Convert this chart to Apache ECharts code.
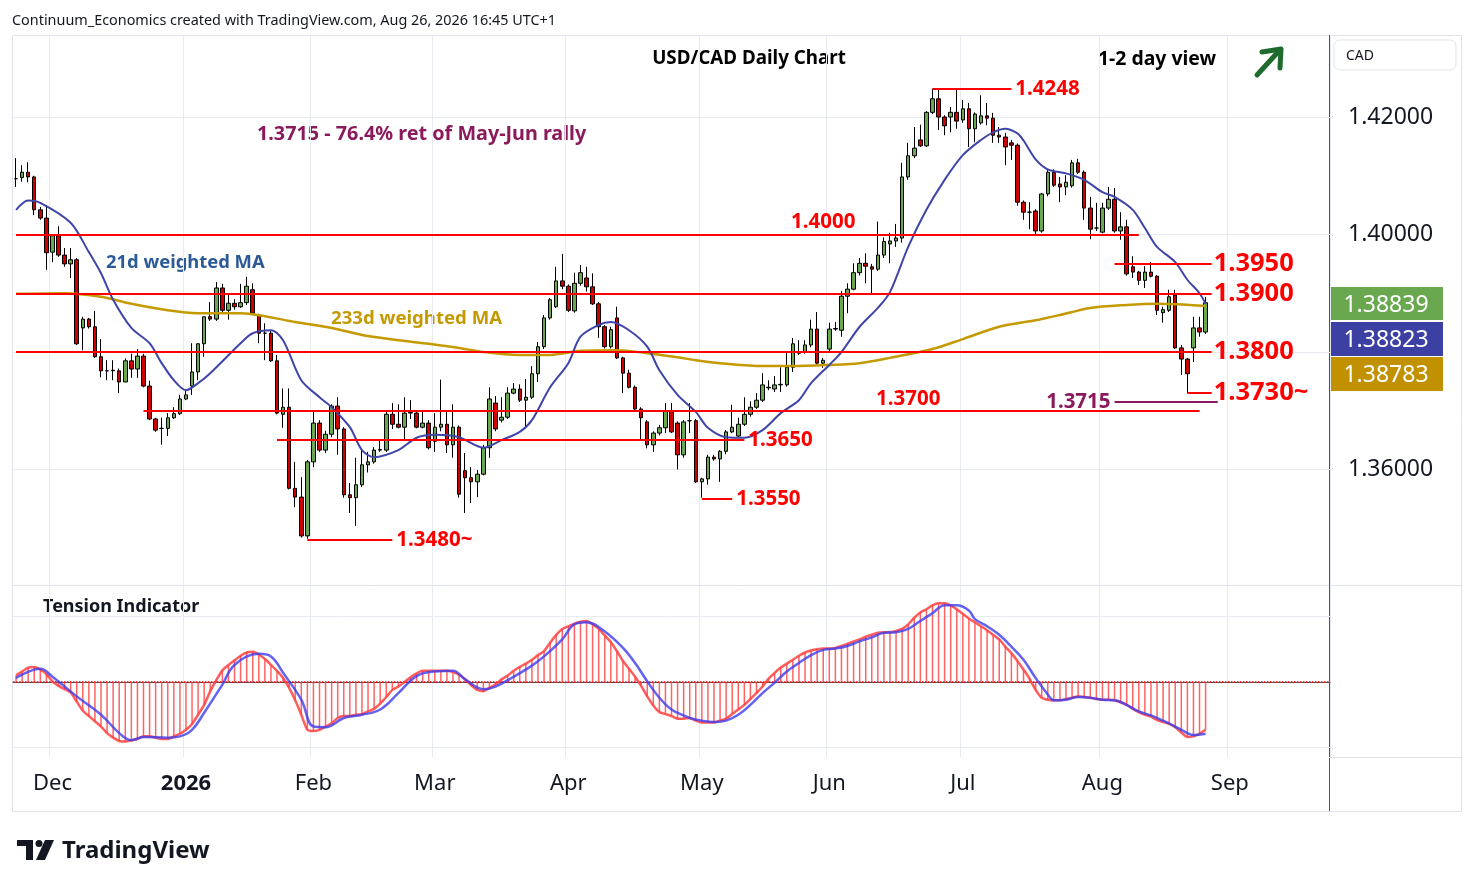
<!DOCTYPE html>
<html>
<head>
<meta charset="utf-8">
<title>USD/CAD Daily Chart</title>
<script src="https://cdn.jsdelivr.net/npm/echarts@6.0.0/dist/echarts.min.js"></script>
<style>
  html, body { margin: 0; padding: 0; background: #fff; }
  #box { width: 1474px; height: 887px; }
</style>
</head>
<body>
<div id="box"></div>
<script>
// ---- values ----

// daily candles, 21 Nov 2025 .. 26 Aug 2026
const openP = [
  1.4095,1.4097,1.4106,1.4098,1.4042,1.4028,1.3970,1.3998,1.3965,1.3950,
  1.3957,1.3841,1.3856,1.3843,1.3792,1.3768,1.3768,1.3768,1.3749,1.3785,
  1.3771,1.3793,1.3742,1.3686,1.3670,1.3670,1.3688,1.3695,1.3720,1.3742,
  1.3766,1.3814,1.3860,1.3856,1.3909,1.3871,1.3883,1.3877,1.3884,1.3906,
  1.3863,1.3832,1.3832,1.3785,1.3694,1.3706,1.3568,1.3553,1.3487,1.3613,
  1.3679,1.3633,1.3660,1.3708,1.3669,1.3557,1.3552,1.3574,1.3608,1.3613,
  1.3633,1.3633,1.3694,1.3677,1.3672,1.3696,1.3696,1.3672,1.3679,1.3648,
  1.3672,1.3677,1.3642,1.3672,1.3598,1.3586,1.3579,1.3592,1.3637,1.3713,
  1.3684,1.3689,1.3730,1.3737,1.3718,1.3723,1.3763,1.3809,1.3858,1.3877,
  1.3921,1.3912,1.3870,1.3917,1.3926,1.3911,1.3882,1.3843,1.3809,1.3858,
  1.3790,1.3764,1.3740,1.3703,1.3681,1.3642,1.3662,1.3671,1.3700,1.3679,
  1.3625,1.3683,1.3683,1.3579,1.3584,1.3621,1.3618,1.3631,1.3664,1.3657,
  1.3677,1.3694,1.3706,1.3718,1.3739,1.3737,1.3744,1.3744,1.3774,1.3798,
  1.3800,1.3812,1.3839,1.3781,1.3805,1.3839,1.3837,1.3895,1.3907,1.3935,
  1.3951,1.3945,1.3941,1.3965,1.3984,1.3989,1.3994,1.4098,1.4134,1.4161,
  1.4151,1.4208,1.4231,1.4200,1.4200,1.4208,1.4195,1.4214,1.4180,1.4190,
  1.4202,1.4198,1.4169,1.4166,1.4156,1.4152,1.4055,1.4038,1.4040,1.4006,
  1.4069,1.4106,1.4086,1.4081,1.4083,1.4122,1.4106,1.4045,1.4011,1.4004,
  1.4045,1.4060,1.4006,1.4013,1.3945,1.3936,1.3922,1.3936,1.3929,1.3867,
  1.3871,1.3897,1.3807,1.3788,1.3807,1.3841,1.3834
];
const highP = [
  1.4130,1.4118,1.4123,1.4100,1.4047,1.4050,1.3998,1.4014,1.3977,1.3977,
  1.3960,1.3860,1.3858,1.3870,1.3822,1.3786,1.3786,1.3772,1.3789,1.3797,
  1.3805,1.3797,1.3751,1.3688,1.3688,1.3696,1.3706,1.3727,1.3735,1.3815,
  1.3815,1.3860,1.3885,1.3919,1.3916,1.3897,1.3890,1.3916,1.3928,1.3917,
  1.3865,1.3849,1.3836,1.3795,1.3738,1.3738,1.3613,1.3587,1.3616,1.3698,
  1.3684,1.3666,1.3711,1.3723,1.3672,1.3577,1.3620,1.3635,1.3630,1.3638,
  1.3650,1.3698,1.3713,1.3711,1.3723,1.3718,1.3701,1.3701,1.3684,1.3696,
  1.3753,1.3698,1.3711,1.3675,1.3628,1.3604,1.3599,1.3642,1.3740,1.3725,
  1.3723,1.3740,1.3747,1.3745,1.3754,1.3776,1.3817,1.3863,1.3892,1.3945,
  1.3967,1.3915,1.3935,1.3948,1.3945,1.3934,1.3885,1.3846,1.3843,1.3877,
  1.3792,1.3770,1.3743,1.3706,1.3684,1.3665,1.3676,1.3713,1.3713,1.3682,
  1.3684,1.3713,1.3686,1.3586,1.3625,1.3625,1.3633,1.3667,1.3710,1.3688,
  1.3723,1.3716,1.3730,1.3764,1.3752,1.3759,1.3774,1.3798,1.3824,1.3820,
  1.3820,1.3855,1.3868,1.3790,1.3850,1.3851,1.3904,1.3917,1.3951,1.3960,
  1.3968,1.3950,1.4022,1.3995,1.4003,1.4018,1.4122,1.4156,1.4183,1.4187,
  1.4210,1.4248,1.4246,1.4203,1.4217,1.4246,1.4229,1.4224,1.4208,1.4237,
  1.4224,1.4207,1.4183,1.4173,1.4161,1.4155,1.4058,1.4055,1.4043,1.4071,
  1.4111,1.4111,1.4098,1.4101,1.4127,1.4129,1.4109,1.4064,1.4054,1.4054,
  1.4081,1.4079,1.4038,1.4025,1.3963,1.3938,1.3946,1.3953,1.3931,1.3877,
  1.3906,1.3906,1.3812,1.3790,1.3860,1.3860,1.3894
];
const lowP = [
  1.4081,1.4090,1.4089,1.4033,1.4025,1.3940,1.3953,1.3962,1.3945,1.3926,
  1.3812,1.3803,1.3840,1.3790,1.3757,1.3752,1.3752,1.3730,1.3749,1.3756,
  1.3756,1.3740,1.3684,1.3664,1.3642,1.3657,1.3686,1.3693,1.3718,1.3727,
  1.3752,1.3792,1.3853,1.3853,1.3865,1.3855,1.3872,1.3875,1.3880,1.3864,
  1.3815,1.3786,1.3783,1.3694,1.3671,1.3566,1.3536,1.3484,1.3482,1.3604,
  1.3630,1.3628,1.3655,1.3625,1.3552,1.3526,1.3504,1.3570,1.3595,1.3610,
  1.3630,1.3630,1.3669,1.3670,1.3650,1.3686,1.3670,1.3670,1.3634,1.3630,
  1.3665,1.3628,1.3620,1.3552,1.3526,1.3543,1.3553,1.3590,1.3620,1.3665,
  1.3680,1.3686,1.3728,1.3715,1.3670,1.3720,1.3749,1.3805,1.3855,1.3875,
  1.3907,1.3868,1.3867,1.3913,1.3903,1.3880,1.3824,1.3806,1.3806,1.3788,
  1.3730,1.3738,1.3700,1.3650,1.3636,1.3630,1.3658,1.3662,1.3662,1.3600,
  1.3620,1.3662,1.3577,1.3552,1.3574,1.3615,1.3579,1.3626,1.3662,1.3655,
  1.3674,1.3690,1.3703,1.3715,1.3735,1.3732,1.3732,1.3741,1.3766,1.3795,
  1.3797,1.3808,1.3779,1.3773,1.3800,1.3836,1.3826,1.3866,1.3905,1.3930,
  1.3917,1.3900,1.3938,1.3960,1.3951,1.3979,1.3986,1.4093,1.4130,1.4149,
  1.4149,1.4205,1.4178,1.4169,1.4174,1.4180,1.4190,1.4149,1.4157,1.4187,
  1.4186,1.4156,1.4156,1.4118,1.4127,1.4049,1.4025,1.4009,1.4000,1.4003,
  1.4065,1.4081,1.4055,1.4067,1.4080,1.4103,1.4025,1.3992,1.4006,1.4002,
  1.4042,1.4003,1.3991,1.3930,1.3926,1.3914,1.3909,1.3927,1.3863,1.3850,
  1.3868,1.3805,1.3761,1.3730,1.3783,1.3826,1.3831
];
const closeP = [
  1.4095,1.4106,1.4098,1.4042,1.4028,1.3969,1.3998,1.3965,1.3950,1.3957,
  1.3814,1.3856,1.3843,1.3792,1.3768,1.3768,1.3769,1.3749,1.3785,1.3771,
  1.3793,1.3742,1.3686,1.3667,1.3670,1.3688,1.3695,1.3720,1.3727,1.3766,
  1.3814,1.3860,1.3856,1.3909,1.3871,1.3883,1.3877,1.3884,1.3912,1.3866,
  1.3832,1.3832,1.3785,1.3696,1.3706,1.3568,1.3553,1.3487,1.3613,1.3679,
  1.3633,1.3660,1.3708,1.3669,1.3557,1.3552,1.3574,1.3608,1.3613,1.3633,
  1.3634,1.3694,1.3677,1.3672,1.3696,1.3697,1.3672,1.3679,1.3637,1.3672,
  1.3677,1.3642,1.3672,1.3558,1.3586,1.3579,1.3592,1.3637,1.3720,1.3669,
  1.3689,1.3730,1.3737,1.3718,1.3723,1.3763,1.3809,1.3858,1.3889,1.3921,
  1.3912,1.3871,1.3917,1.3935,1.3911,1.3882,1.3843,1.3809,1.3838,1.3790,
  1.3764,1.3740,1.3703,1.3688,1.3642,1.3662,1.3671,1.3700,1.3664,1.3625,
  1.3681,1.3683,1.3579,1.3584,1.3621,1.3618,1.3631,1.3664,1.3672,1.3677,
  1.3694,1.3706,1.3718,1.3744,1.3740,1.3744,1.3745,1.3774,1.3814,1.3799,
  1.3812,1.3839,1.3781,1.3786,1.3839,1.3840,1.3895,1.3907,1.3935,1.3951,
  1.3946,1.3941,1.3965,1.3988,1.3989,1.3994,1.4098,1.4134,1.4147,1.4151,
  1.4208,1.4231,1.4200,1.4185,1.4208,1.4193,1.4214,1.4180,1.4205,1.4202,
  1.4198,1.4169,1.4166,1.4149,1.4152,1.4055,1.4038,1.4038,1.4006,1.4069,
  1.4106,1.4084,1.4081,1.4089,1.4122,1.4106,1.4045,1.4009,1.4011,1.4045,
  1.4060,1.4006,1.4013,1.3933,1.3936,1.3922,1.3936,1.3929,1.3871,1.3872,
  1.3894,1.3807,1.3788,1.3763,1.3841,1.3834,1.38839
];

// moving averages: [bar index, price]
const wma21 = [
  [0,1.4042],[2,1.4058],[4,1.4054],[9,1.4020],[12,1.3970],[14,1.3934],[16,1.3889],
  [19,1.3841],[22,1.3815],[24,1.3781],[26,1.3752],[28,1.3735],[30,1.3747],[32,1.3764],
  [37,1.3815],[39,1.3832],[42,1.3837],[44,1.3820],[47,1.3752],[50,1.3723],[52,1.3706],
  [55,1.3672],[57,1.3633],[59,1.3621],[63,1.3633],[66,1.3654],[69,1.3659],[73,1.3655],
  [77,1.3637],[80,1.3650],[83,1.3664],[85,1.3684],[88,1.3740],[91,1.3781],[93,1.3826],
  [96,1.3846],[98,1.3851],[101,1.3837],[104,1.3809],[106,1.3769],[109,1.3727],[112,1.3698],
  [114,1.3671],[117,1.3655],[120,1.3654],[123,1.3667],[126,1.3696],[129,1.3718],[131,1.3747],
  [134,1.3778],[136,1.3800],[139,1.3843],[142,1.3875],[144,1.3902],[147,1.3979],[150,1.4042],
  [153,1.4093],[156,1.4135],[159,1.4161],[161,1.4174],[163,1.4180],[165,1.4172],[166,1.4160],
  [168,1.4128],[170,1.4111],[173,1.4104],[176,1.4093],[179,1.4072],[181,1.4064],[184,1.4042],
  [186,1.4011],[188,1.3979],[191,1.3953],[193,1.3923],[195,1.3900],[196,1.38823]
];
const wma233 = [
  [0,1.3899],[8,1.3900],[14,1.3894],[19,1.3882],[25,1.3871],[30,1.3866],[37,1.3866],
  [41,1.3861],[46,1.3851],[52,1.3841],[57,1.3829],[63,1.3820],[68,1.3814],[73,1.3807],
  [77,1.3800],[83,1.3795],[88,1.3795],[93,1.3802],[99,1.3803],[104,1.3798],[109,1.3791],
  [112,1.3786],[117,1.3780],[123,1.3776],[128,1.3776],[134,1.3778],[139,1.3781],[144,1.3790],
  [151,1.3805],[156,1.3822],[162,1.3843],[168,1.3854],[172,1.3863],[177,1.3875],[183,1.3880],
  [188,1.3882],[196,1.38783]
];

// tension indicator, one value per bar
const tension = [
  0.10,0.16,0.22,0.23,0.19,0.12,0.01,-0.06,-0.11,-0.16,
  -0.30,-0.44,-0.52,-0.60,-0.68,-0.78,-0.85,-0.90,-0.91,-0.89,
  -0.87,-0.83,-0.83,-0.85,-0.87,-0.87,-0.83,-0.79,-0.73,-0.64,
  -0.50,-0.35,-0.14,0.03,0.18,0.26,0.33,0.40,0.45,0.46,
  0.42,0.35,0.26,0.17,0.06,-0.09,-0.28,-0.50,-0.73,-0.75,
  -0.73,-0.68,-0.63,-0.55,-0.52,-0.52,-0.50,-0.49,-0.45,-0.41,
  -0.33,-0.23,-0.12,-0.07,0.00,0.07,0.13,0.17,0.17,0.17,
  0.17,0.17,0.15,0.11,0.04,-0.05,-0.12,-0.14,-0.09,-0.04,
  0.04,0.10,0.17,0.23,0.28,0.34,0.41,0.47,0.60,0.72,
  0.81,0.85,0.89,0.92,0.93,0.88,0.81,0.71,0.61,0.47,
  0.32,0.20,0.08,-0.06,-0.22,-0.36,-0.46,-0.49,-0.52,-0.56,
  -0.56,-0.55,-0.59,-0.62,-0.62,-0.62,-0.59,-0.56,-0.49,-0.42,
  -0.35,-0.26,-0.17,-0.07,0.05,0.14,0.22,0.28,0.34,0.40,
  0.45,0.48,0.50,0.51,0.51,0.52,0.55,0.58,0.62,0.65,
  0.69,0.72,0.75,0.76,0.76,0.78,0.81,0.88,0.98,1.06,
  1.11,1.17,1.20,1.20,1.17,1.11,1.04,0.97,0.91,0.85,
  0.79,0.72,0.65,0.54,0.44,0.32,0.19,0.05,-0.12,-0.24,
  -0.27,-0.28,-0.28,-0.26,-0.24,-0.22,-0.23,-0.24,-0.26,-0.27,
  -0.27,-0.28,-0.31,-0.35,-0.41,-0.46,-0.50,-0.53,-0.58,-0.61,
  -0.64,-0.69,-0.77,-0.84,-0.83,-0.79,-0.73
];
// its signal line: [bar index, value]
const tensionSignal = [
  [0,0.06],[4,0.20],[6,0.08],[10,-0.22],[14,-0.50],[17,-0.78],[19,-0.89],[21,-0.84],
  [25,-0.85],[27,-0.83],[29,-0.73],[31,-0.47],[34,-0.04],[36,0.26],[40,0.43],[42,0.39],
  [44,0.14],[47,-0.27],[49,-0.68],[51,-0.69],[54,-0.55],[57,-0.50],[60,-0.42],[63,-0.17],
  [66,0.09],[69,0.16],[72,0.17],[74,0.04],[77,-0.11],[79,-0.07],[82,0.08],[85,0.25],
  [87,0.39],[90,0.65],[92,0.88],[94,0.91],[97,0.77],[100,0.52],[102,0.29],[104,0.01],
  [106,-0.24],[108,-0.42],[110,-0.51],[111,-0.55],[113,-0.59],[115,-0.61],[117,-0.59],
  [119,-0.50],[121,-0.35],[123,-0.17],[125,-0.01],[127,0.16],[129,0.29],[131,0.41],
  [133,0.49],[135,0.51],[137,0.55],[139,0.62],[141,0.68],[143,0.75],[145,0.76],[147,0.81],
  [149,0.93],[151,1.05],[153,1.17],[155,1.17],[157,1.09],[158,0.96],[160,0.85],[162,0.72],
  [164,0.54],[166,0.34],[168,0.06],[170,-0.19],[171,-0.28],[173,-0.27],[175,-0.23],
  [177,-0.24],[179,-0.27],[181,-0.28],[183,-0.35],[185,-0.45],[187,-0.51],[189,-0.59],
  [191,-0.68],[193,-0.78],[194,-0.81],[196,-0.79]
];

// axis ticks
const priceTicks = [1.36, 1.40, 1.42];
const priceGrid = [1.36, 1.38, 1.40, 1.42];
const tensionGrid = [-1, 1];
const monthNames = ['Jan','Feb','Mar','Apr','May','Jun','Jul','Aug','Sep','Oct','Nov','Dec'];

// support / resistance lines: value, first bar, last bar, text, label kind (, bar for label)
const levels = [
  [1.4000, 0, 185, '1.4000', 'top', 133],
  [1.3900, 0, 197, '1.3900', 'big'],
  [1.3800, 0, 197, '1.3800', 'big'],
  [1.3950, 181, 197, '1.3950', 'big'],
  [1.3730, 193, 197, '1.3730~', 'big'],
  [1.3700, 21, 195, '1.3700', 'top', 147],
  [1.3650, 43, 120, '1.3650', 'small'],
  [1.3550, 113, 118, '1.3550', 'small'],
  [1.3480, 48, 62, '1.3480~', 'small'],
  [1.4248, 151, 164, '1.4248', 'small'],
  [1.3715, 181, 198, '1.3715', 'left']
];

// trading days (FX: weekdays, no Christmas / New Year), 20 blank days on the right
const holidays = ['2025-12-25', '2026-01-01'];
function buildDates(start, count) {
  let out = [];
  let d = new Date(start + 'T00:00:00Z');
  while (out.length < count) {
    let wd = d.getUTCDay();
    let s = d.toISOString().slice(0, 10);
    if (wd !== 0 && wd !== 6 && !holidays.includes(s)) out.push(s);
    d.setUTCDate(d.getUTCDate() + 1);
  }
  return out;
}
const dates = buildDates('2025-11-21', closeP.length + 20);

const FONT = '"Noto Sans", "DejaVu Sans", sans-serif';
const RED = '#ff0000';
const PURPLE = '#8b1a5c';

function isMonthStart(index) {
  return index > 0 && dates[index].slice(5, 7) !== dates[index - 1].slice(5, 7);
}

let candles = closeP.map(function (c, i) {
  return [openP[i], c, lowP[i], highP[i]];
});

// level lines -> markLine / markPoint items
let levelLines = levels.map(function (l) {
  let color = l[4] === 'left' ? PURPLE : RED;
  let label = { show: false };
  if (l[4] === 'big') {
    label = { show: true, position: 'end', distance: 2, formatter: l[3], color: RED,
      fontFamily: FONT, fontWeight: 'bold', fontSize: 25.5, padding: [4, 0, 0, 0] };
  } else if (l[4] === 'small') {
    label = { show: true, position: 'end', distance: 4, formatter: l[3], color: RED,
      fontFamily: FONT, fontWeight: 'bold', fontSize: 20.5, padding: [3, 0, 0, 0] };
  } else if (l[4] === 'left') {
    label = { show: true, position: 'start', distance: 4, formatter: l[3], color: PURPLE,
      fontFamily: FONT, fontWeight: 'bold', fontSize: 20.5, padding: [0, 0, 4, 0] };
  }
  return [
    { coord: [l[1], l[0]], lineStyle: { color: color, width: 2, type: 'solid' }, label: label },
    { coord: [l[2], l[0]] }
  ];
});
let levelTexts = levels.filter(function (l) { return l[4] === 'top'; }).map(function (l) {
  return {
    coord: [l[5], l[0]],
    label: { show: true, position: 'top', distance: 1, formatter: l[3], color: RED,
      fontFamily: FONT, fontWeight: 'bold', fontSize: 20.5 }
  };
});

let chart = echarts.init(document.getElementById('box'));

let option = {
  animation: false,
  backgroundColor: '#ffffff',
  textStyle: { fontFamily: FONT },
  grid: [
    { left: 13, right: 144, top: 35, height: 550 },
    { left: 13, right: 144, top: 585, height: 172 }
  ],
  xAxis: [
    {
      type: 'category', gridIndex: 0, data: dates, boundaryGap: true,
      axisLine: { show: false }, axisTick: { show: false }, axisLabel: { show: false },
      splitLine: { show: true, interval: isMonthStart, lineStyle: { color: '#e6ebf1', width: 1 } }
    },
    {
      type: 'category', gridIndex: 1, data: dates, boundaryGap: true,
      axisLine: { show: true, lineStyle: { color: '#50535e', width: 1 } },
      axisTick: { show: false },
      axisLabel: {
        show: true, interval: isMonthStart, margin: 16, fontSize: 22, color: '#131722',
        fontFamily: FONT,
        formatter: function (v) {
          let m = +v.slice(5, 7);
          if (m === 1) return '{b|' + v.slice(0, 4) + '}';
          return monthNames[m - 1];
        },
        rich: { b: { fontWeight: 'bold', fontSize: 22, color: '#131722', fontFamily: FONT } }
      },
      splitLine: { show: true, interval: isMonthStart, lineStyle: { color: '#e6ebf1', width: 1 } }
    }
  ],
  yAxis: [
    {
      type: 'value', gridIndex: 0, position: 'right', min: 1.34034, max: 1.43396,
      axisLine: { show: false }, axisTick: { show: false }, splitLine: { show: false },
      axisLabel: {
        customValues: priceTicks, margin: 18, fontSize: 23, color: '#131722', fontFamily: FONT,
        padding: [5, 0, 0, 0],
        formatter: function (v) { return v.toFixed(5); }
      }
    },
    {
      type: 'value', gridIndex: 1, position: 'right', min: -1.145, max: 1.48,
      axisLine: { show: false }, axisTick: { show: false }, splitLine: { show: false },
      axisLabel: { show: false }
    }
  ],
  series: [
    {
      // horizontal price grid
      name: 'grid', type: 'line', xAxisIndex: 0, yAxisIndex: 0, data: [], silent: true,
      markLine: {
        silent: true, symbol: ['none', 'none'], z: 1, label: { show: false },
        lineStyle: { color: '#e6ebf1', width: 1, type: 'solid' },
        data: priceGrid.map(function (v) { return { yAxis: v }; })
      }
    },
    {
      name: 'USD/CAD', type: 'candlestick', xAxisIndex: 0, yAxisIndex: 0, data: candles,
      barWidth: 4, z: 3,
      itemStyle: {
        color: '#6aa84f', color0: '#cc0000',
        borderColor: '#000000', borderColor0: '#000000', borderWidth: 1
      },
      markLine: {
        silent: true, symbol: ['none', 'none'], animation: false,
        data: levelLines
      },
      markPoint: {
        silent: true, symbol: 'circle', symbolSize: 1,
        itemStyle: { color: 'rgba(0,0,0,0)' },
        data: levelTexts
      }
    },
    {
      name: '233d WMA', type: 'line', xAxisIndex: 0, yAxisIndex: 0, data: wma233,
      smooth: 0.3, showSymbol: false, z: 4,
      lineStyle: { color: '#c49a00', width: 2.5 }
    },
    {
      name: '21d WMA', type: 'line', xAxisIndex: 0, yAxisIndex: 0, data: wma21,
      smooth: 0.3, showSymbol: false, z: 4,
      lineStyle: { color: '#3f45a8', width: 2 }
    },
    {
      name: 'Tension', type: 'bar', xAxisIndex: 1, yAxisIndex: 1, data: tension,
      barWidth: 1.5, itemStyle: { color: 'rgba(255,60,60,0.8)' },
      markLine: {
        silent: true, symbol: ['none', 'none'], z: 1, label: { show: false },
        data: [{ yAxis: 0, lineStyle: { color: RED, width: 1.5, type: 'dotted' } }].concat(
          tensionGrid.map(function (v) {
            return { yAxis: v, lineStyle: { color: '#e6ebf1', width: 1, type: 'solid' } };
          }))
      }
    },
    {
      name: 'Tension line', type: 'line', xAxisIndex: 1, yAxisIndex: 1, data: tension,
      showSymbol: false, smooth: 0.2,
      lineStyle: { color: '#ff4040', width: 2.5, opacity: 0.85 }
    },
    {
      name: 'Signal', type: 'line', xAxisIndex: 1, yAxisIndex: 1, data: tensionSignal,
      showSymbol: false, smooth: 0.4,
      lineStyle: { color: '#3c3cf0', width: 2.5, opacity: 0.8 }
    }
  ],
  graphic: [
    // frame
    { type: 'rect', shape: { x: 12.5, y: 35.5, width: 1449, height: 776 },
      style: { fill: null, stroke: '#e0e3eb', lineWidth: 1 }, silent: true },
    { type: 'line', shape: { x1: 12, y1: 585.5, x2: 1461, y2: 585.5 },
      style: { stroke: '#e0e3eb', lineWidth: 1 }, silent: true },
    { type: 'line', shape: { x1: 1329.5, y1: 35, x2: 1329.5, y2: 811 },
      style: { stroke: '#50535e', lineWidth: 1 }, silent: true },
    { type: 'line', shape: { x1: 1329, y1: 757.5, x2: 1461, y2: 757.5 },
      style: { stroke: '#e0e3eb', lineWidth: 1 }, silent: true },
    // header
    { type: 'text', x: 12, y: 20.5, silent: true,
      style: { text: 'Continuum_Economics created with TradingView.com, Aug 26, 2026 16:45 UTC+1',
        fill: '#131722', font: '14.4px ' + FONT, textAlign: 'left', textVerticalAlign: 'middle' } },
    // titles
    { type: 'text', x: 749, y: 59, silent: true,
      style: { text: 'USD/CAD Daily Chart', fill: '#000', font: 'bold 18.8px ' + FONT,
        textAlign: 'center', textVerticalAlign: 'middle' } },
    { type: 'text', x: 1157, y: 59, silent: true,
      style: { text: '1-2 day view', fill: '#000', font: 'bold 19.4px ' + FONT,
        textAlign: 'center', textVerticalAlign: 'middle' } },
    // up arrow
    { type: 'line', shape: { x1: 1257, y1: 75, x2: 1278, y2: 52 }, silent: true,
      style: { stroke: '#1f6b2e', lineWidth: 5, lineCap: 'round' } },
    { type: 'polyline', shape: { points: [[1262, 52], [1281, 49], [1280, 68]] }, silent: true,
      style: { stroke: '#1f6b2e', fill: null, lineWidth: 5, lineCap: 'round', lineJoin: 'round' } },
    // notes
    { type: 'text', x: 257, y: 134, silent: true,
      style: { text: '1.3715 - 76.4% ret of May-Jun rally', fill: PURPLE, font: 'bold 19.8px ' + FONT,
        textAlign: 'left', textVerticalAlign: 'middle' } },
    { type: 'text', x: 106, y: 263, silent: true,
      style: { text: '21d weighted MA', fill: '#2c5a96', font: 'bold 18.4px ' + FONT,
        textAlign: 'left', textVerticalAlign: 'middle' } },
    { type: 'text', x: 331, y: 319, silent: true,
      style: { text: '233d weighted MA', fill: '#c49a00', font: 'bold 18.6px ' + FONT,
        textAlign: 'left', textVerticalAlign: 'middle' } },
    { type: 'text', x: 43, y: 607, silent: true,
      style: { text: 'Tension Indicator', fill: '#131722', font: 'bold 18px ' + FONT,
        textAlign: 'left', textVerticalAlign: 'middle' } },
    // currency box
    { type: 'rect', shape: { x: 1334, y: 40, width: 122, height: 30, r: 6 }, silent: true,
      style: { fill: '#fff', stroke: '#e0e3eb', lineWidth: 1 } },
    { type: 'text', x: 1346, y: 56, silent: true,
      style: { text: 'CAD', fill: '#131722', font: '14px ' + FONT, textAlign: 'left', textVerticalAlign: 'middle' } },
    // last value boxes
    { type: 'rect', shape: { x: 1330, y: 287, width: 113, height: 33 }, silent: true, style: { fill: '#6aa84f' } },
    { type: 'text', x: 1386, y: 305, silent: true,
      style: { text: closeP[closeP.length - 1].toFixed(5), fill: '#fff', font: '23px ' + FONT,
        textAlign: 'center', textVerticalAlign: 'middle' } },
    { type: 'rect', shape: { x: 1330, y: 322, width: 113, height: 34 }, silent: true, style: { fill: '#3b40a2' } },
    { type: 'text', x: 1386, y: 340, silent: true,
      style: { text: wma21[wma21.length - 1][1].toFixed(5), fill: '#fff', font: '23px ' + FONT,
        textAlign: 'center', textVerticalAlign: 'middle' } },
    { type: 'rect', shape: { x: 1330, y: 357, width: 113, height: 34 }, silent: true, style: { fill: '#c29100' } },
    { type: 'text', x: 1386, y: 375, silent: true,
      style: { text: wma233[wma233.length - 1][1].toFixed(5), fill: '#fff', font: '23px ' + FONT,
        textAlign: 'center', textVerticalAlign: 'middle' } },
    // TradingView logo
    { type: 'rect', shape: { x: 17, y: 840, width: 16, height: 6 }, silent: true, style: { fill: '#131722' } },
    { type: 'rect', shape: { x: 26, y: 840, width: 7, height: 20 }, silent: true, style: { fill: '#131722' } },
    { type: 'circle', shape: { cx: 39, cy: 843.5, r: 3.5 }, silent: true, style: { fill: '#131722' } },
    { type: 'polygon', shape: { points: [[45, 840], [54, 840], [45, 860], [36, 860]] }, silent: true,
      style: { fill: '#131722' } },
    { type: 'text', x: 62, y: 851, silent: true,
      style: { text: 'TradingView', fill: '#131722', font: 'bold 24px ' + FONT,
        textAlign: 'left', textVerticalAlign: 'middle' } }
  ]
};

chart.setOption(option);
</script>
</body>
</html>
